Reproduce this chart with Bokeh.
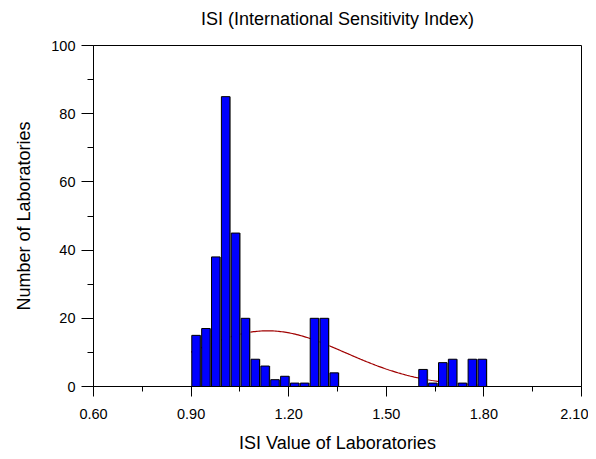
import numpy as np
from bokeh.plotting import figure
from bokeh.models import FixedTicker, NumeralTickFormatter, Range1d, Title
from bokeh.embed import file_html
from bokeh.resources import INLINE

# Histogram: 30 bins spanning the data range
bin_start = 0.90
bin_end = 1.81
counts = [15, 17, 38, 85, 45, 20, 8, 6, 2, 3, 1, 1, 20, 20, 4,
          0, 0, 0, 0, 0, 0, 0, 0,
          5, 1, 7, 8, 1, 8, 8]
x_ticks = [0.60, 0.90, 1.20, 1.50, 1.80, 2.10]
x_minor = [0.75, 1.05, 1.35, 1.65, 1.95]
y_ticks = [0, 20, 40, 60, 80, 100]
y_minor = [10, 30, 50, 70, 90]

title = "ISI (International Sensitivity Index)"
x_label = "ISI Value of Laboratories"
y_label = "Number of Laboratories"

nb = len(counts)
bw = (bin_end - bin_start) / nb
edges = bin_start + bw * np.arange(nb + 1)
centers = (edges[:-1] + edges[1:]) / 2
cnt = np.array(counts, dtype=float)

# normal fit of the histogram
N = cnt.sum()
mu = (cnt * centers).sum() / N
sd = np.sqrt((cnt * (centers - mu) ** 2).sum() / N)
xc = np.linspace(bin_start, bin_end, 200)
yc = N * bw / (sd * np.sqrt(2 * np.pi)) * np.exp(-0.5 * ((xc - mu) / sd) ** 2)

FONT = "Liberation Sans"

p = figure(width=588, height=455, output_backend="svg", toolbar_location=None,
           x_range=Range1d(0.6, 2.1), y_range=Range1d(0, 100),
           min_border_left=93, min_border_right=7, min_border_top=45, min_border_bottom=65)
p.title_location = None

# spacer (closest to the frame), then the real title above it
p.add_layout(Title(text=" ", text_font_size="1px", standoff=8), "above")
p.add_layout(Title(text=title, align="center", text_font=FONT, text_font_size="18px",
                   text_font_style="normal", text_color="#000000", standoff=12), "above")

p.grid.visible = False
p.outline_line_color = "#000000"
p.outline_line_width = 1
p.background_fill_color = "white"
p.border_fill_color = "white"

# curve behind the bars
p.line(xc, yc, line_color="#A00000", line_width=1.2)

# bar shadow
p.vbar(x=centers + bw * 0.1, top=cnt, width=bw * 0.86, bottom=0,
       fill_color="#9a9a9a", line_color=None)
p.vbar(x=centers, top=cnt, width=bw * 0.86, bottom=0,
       fill_color="#0000FF", line_color="#000000", line_width=1)

for ax in (p.xaxis[0], p.yaxis[0]):
    ax.axis_line_color = "#000000"
    ax.major_tick_line_color = "#000000"
    ax.minor_tick_line_color = "#000000"
    ax.major_tick_in = 0
    ax.minor_tick_in = 0
    ax.major_tick_out = 10
    ax.minor_tick_out = 5
    ax.major_label_text_font = FONT
    ax.major_label_text_font_size = "14.5px"
    ax.major_label_text_color = "#000000"
    ax.axis_label_text_font = FONT
    ax.axis_label_text_font_size = "18px"
    ax.axis_label_text_font_style = "normal"
    ax.axis_label_text_color = "#000000"

p.xaxis[0].ticker = FixedTicker(ticks=x_ticks, minor_ticks=x_minor)
p.xaxis[0].formatter = NumeralTickFormatter(format="0.00")
p.xaxis[0].axis_label = x_label
p.xaxis[0].major_label_standoff = 12
p.xaxis[0].axis_label_standoff = 11

p.yaxis[0].ticker = FixedTicker(ticks=y_ticks, minor_ticks=y_minor)
p.yaxis[0].axis_label = y_label
p.yaxis[0].major_tick_out = 12
p.yaxis[0].minor_tick_out = 6
p.yaxis[0].major_label_standoff = 6
p.yaxis[0].axis_label_standoff = 14

open("out.html", "w").write(file_html(p, INLINE))
